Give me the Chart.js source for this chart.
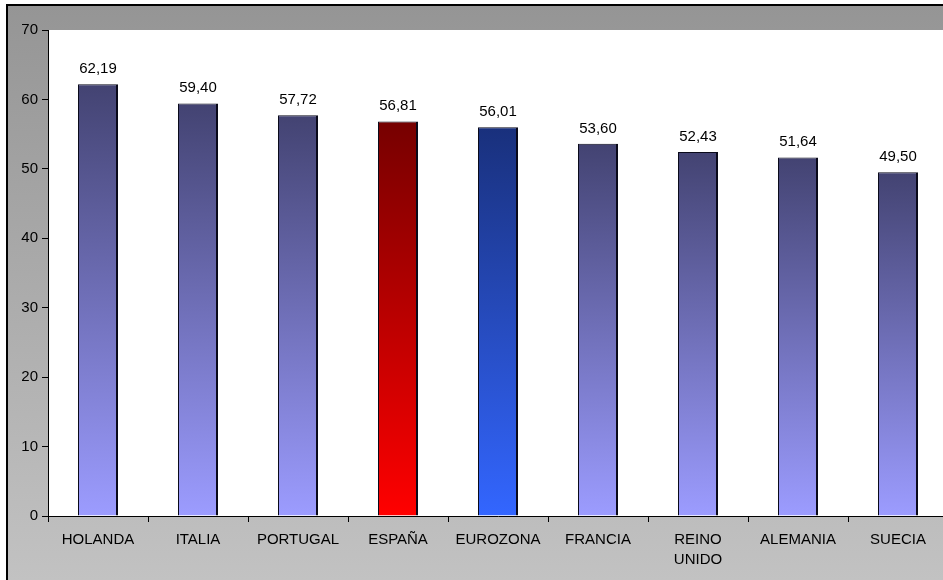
<!DOCTYPE html>
<html>
<head>
<meta charset="utf-8">
<script src="https://cdn.jsdelivr.net/npm/chart.js@4/dist/chart.umd.min.js"></script>
<style>
  html, body { margin: 0; padding: 0; background: #ffffff; overflow: hidden; }
  #wrap { position: absolute; left: 0; top: 0; width: 960px; height: 580px; }
</style>
</head>
<body>
<div id="wrap"><canvas id="chart" width="960" height="580"></canvas></div>
<script>
// Categories and values
const categories = ['HOLANDA', 'ITALIA', 'PORTUGAL', 'ESPAÑA', 'EUROZONA', 'FRANCIA', 'REINO UNIDO', 'ALEMANIA', 'SUECIA'];
const values = [62.19, 59.40, 57.72, 56.81, 56.01, 53.60, 52.43, 51.64, 49.50];
const yTicks = [0, 10, 20, 30, 40, 50, 60, 70];

// Gradient colours per bar (top -> base)
const topColors = ['#434372', '#434372', '#434372', '#760000', '#19307c', '#434372', '#434372', '#434372', '#434372'];
const baseColors = ['#9c9cff', '#9c9cff', '#9c9cff', '#ff0000', '#3366ff', '#9c9cff', '#9c9cff', '#9c9cff', '#9c9cff'];

const FONT = { family: 'Arial, "Liberation Sans", sans-serif', size: 15 };

function fmt(v) { return v.toFixed(2).replace('.', ','); }

// Grey framed backdrop and white plot area
const backdrop = {
  id: 'backdrop',
  beforeDraw(chart) {
    const { ctx, width, height, chartArea: a } = chart;
    ctx.save();
    ctx.fillStyle = '#ffffff';
    ctx.fillRect(0, 0, width, height);
    const g = ctx.createLinearGradient(0, 5, 0, height);
    g.addColorStop(0, '#959595');
    g.addColorStop(1, '#c2c2c2');
    ctx.fillStyle = g;
    ctx.fillRect(7, 5, width - 7, height - 5);
    ctx.strokeStyle = '#000000';
    ctx.lineWidth = 2;
    ctx.beginPath();
    ctx.moveTo(7, height);
    ctx.lineTo(7, 5);
    ctx.lineTo(width, 5);
    ctx.stroke();
    ctx.fillStyle = '#ffffff';
    ctx.fillRect(a.left, a.top, a.right - a.left, a.bottom - a.top);
    ctx.restore();
  }
};

// Value labels above bars
const valueLabels = {
  id: 'valueLabels',
  afterDatasetsDraw(chart) {
    const { ctx } = chart;
    const meta = chart.getDatasetMeta(0);
    ctx.save();
    ctx.font = FONT.size + 'px ' + FONT.family;
    ctx.fillStyle = '#000000';
    ctx.textAlign = 'center';
    ctx.textBaseline = 'bottom';
    meta.data.forEach((bar, i) => {
      ctx.fillText(fmt(values[i]), bar.x, bar.y - 8);
    });
    ctx.restore();
  }
};

function barFill(c) {
  if (c.type !== 'data') return baseColors[0];
  const chart = c.chart;
  if (!chart.chartArea) return baseColors[c.dataIndex];
  const ys = chart.scales.y;
  const top = ys.getPixelForValue(c.raw);
  const base = ys.getPixelForValue(0);
  const g = chart.ctx.createLinearGradient(0, top, 0, base);
  g.addColorStop(0, topColors[c.dataIndex]);
  g.addColorStop(1, baseColors[c.dataIndex]);
  return g;
}

new Chart(document.getElementById('chart'), {
  type: 'bar',
  data: {
    labels: categories,
    datasets: [{
      data: values,
      backgroundColor: barFill,
      borderColor: '#0a0a1a',
      borderWidth: { left: 1, top: 1, right: 2, bottom: 0 },
      borderSkipped: 'bottom',
      barPercentage: 0.4,
      categoryPercentage: 1.0
    }]
  },
  options: {
    responsive: false,
    devicePixelRatio: 1,
    animation: false,
    layout: { padding: { left: 0, top: 30, right: 12, bottom: 0 } },
    plugins: { legend: { display: false }, tooltip: { enabled: false } },
    scales: {
      x: {
        offset: true,
        grid: { offset: true, drawOnChartArea: false, drawTicks: true, tickLength: 6, color: '#000000' },
        border: { display: true, color: '#000000', width: 1 },
        ticks: {
          color: '#000000',
          font: { family: FONT.family, size: FONT.size, lineHeight: 1.33 },
          padding: 8,
          maxRotation: 0,
          autoSkip: false,
          callback(v, i) { const s = categories[i]; return s.includes(' ') ? s.split(' ') : s; }
        },
        afterFit(scale) { scale.height = 64; }
      },
      y: {
        min: 0,
        max: 70,
        afterBuildTicks(scale) { scale.ticks = yTicks.map(v => ({ value: v })); },
        grid: { drawOnChartArea: false, drawTicks: true, tickLength: 6, color: '#000000' },
        border: { display: true, color: '#000000', width: 1 },
        ticks: { color: '#000000', font: FONT, padding: 4 },
        afterFit(scale) { scale.width = 48; }
      }
    }
  },
  plugins: [backdrop, valueLabels]
});
</script>
</body>
</html>
